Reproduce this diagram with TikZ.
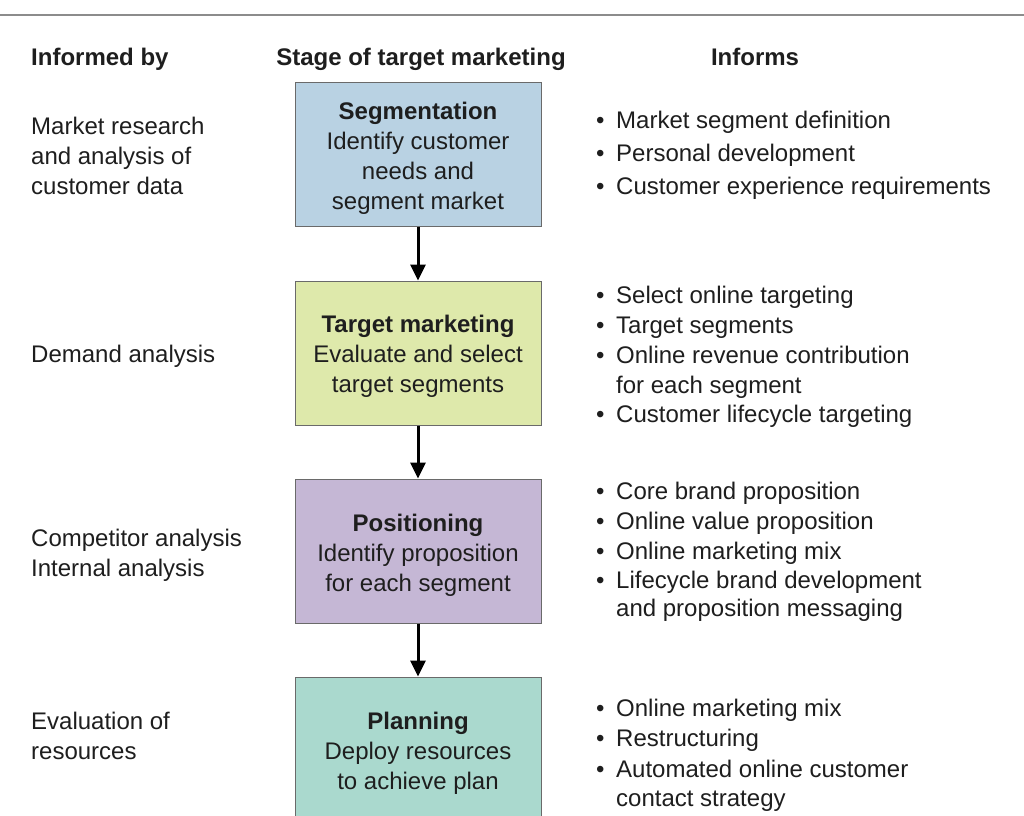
\documentclass[tikz,border=0pt]{standalone}
\usepackage{fontspec}
\setmainfont{Liberation Sans}
\usetikzlibrary{arrows.meta}
\definecolor{txt}{HTML}{1E1E1E}
\definecolor{cSeg}{HTML}{B9D2E3}
\definecolor{cTar}{HTML}{DEE9AB}
\definecolor{cPos}{HTML}{C5B7D5}
\definecolor{cPla}{HTML}{AAD9CE}
\definecolor{brd}{HTML}{6A6A6A}
\newcommand{\bl}{\makebox[20pt][l]{\textbullet}}
\begin{document}
\begin{tikzpicture}[x=1pt,y=-1pt,
  every node/.style={text=txt,font=\fontsize{24}{30}\selectfont,inner sep=0pt},
  lbl/.style={anchor=base west},
  hdr/.style={anchor=base,font=\fontsize{24}{30}\selectfont\bfseries},
  stagebox/.style={draw=brd,line width=1pt,minimum width=246pt,minimum height=144pt},
  stagetext/.style={align=center},
  flow/.style={line width=3pt,-{Triangle[width=15pt,length=16pt]}}]
\useasboundingbox (0,0) rectangle (1024,815);
\clip (0,0) rectangle (1024,815);
\fill[white] (0,0) rectangle (1024,815);
\coordinate (tl) at (0,15);
\coordinate (tr) at (1024,15);
\draw[line width=1.5pt,black!45] (tl) -- (tr);
% headers
\node[hdr,anchor=base west] (h1) at (31,65) {Informed by};
\node[hdr] (h2) at (421,65) {Stage of target marketing};
\node[hdr] (h3) at (755,65) {Informs};
% boxes
\node[stagebox,fill=cSeg] (b1) at (418,154) {};
\node[stagebox,fill=cTar] (b2) at (418,353) {};
\node[stagebox,fill=cPos] (b3) at (418,551) {};
\node[stagebox,fill=cPla] (b4) at (418,749) {};
\node[stagetext] (t1) at ([yshift=-4pt]b1.center) {\textbf{Segmentation}\\Identify customer\\needs and\\segment market};
\node[stagetext] (t2) at ([yshift=-3pt]b2.center) {\textbf{Target marketing}\\Evaluate and select\\target segments};
\node[stagetext] (t3) at ([yshift=-4pt]b3.center) {\textbf{Positioning}\\Identify proposition\\for each segment};
\node[stagetext] (t4) at ([yshift=-4pt]b4.center) {\textbf{Planning}\\Deploy resources\\to achieve plan};
\draw[flow] (b1.south) -- (b2.north);
\draw[flow] (b2.south) -- (b3.north);
\draw[flow] (b3.south) -- (b4.north);
% left column
\node[lbl] (l1) at (31,134) {Market research};
\node[lbl] (l2) at (31,164) {and analysis of};
\node[lbl] (l3) at (31,194) {customer data};
\node[lbl] (l4) at (31,362) {Demand analysis};
\node[lbl] (l5) at (31,546) {Competitor analysis};
\node[lbl] (l6) at (31,576) {Internal analysis};
\node[lbl] (l7) at (31,729) {Evaluation of};
\node[lbl] (l8) at (31,759) {resources};
% right column
\node[lbl] (r1) at (596,128) {\bl Market segment definition};
\node[lbl] (r2) at (596,161) {\bl Personal development};
\node[lbl] (r3) at (596,194) {\bl Customer experience requirements};
\node[lbl] (r4) at (596,303) {\bl Select online targeting};
\node[lbl] (r5) at (596,333) {\bl Target segments};
\node[lbl] (r6) at (596,363) {\bl Online revenue contribution};
\node[lbl] (r7) at (616,393) {for each segment};
\node[lbl] (r8) at (596,422) {\bl Customer lifecycle targeting};
\node[lbl] (r9) at (596,499) {\bl Core brand proposition};
\node[lbl] (r10) at (596,529) {\bl Online value proposition};
\node[lbl] (r11) at (596,559) {\bl Online marketing mix};
\node[lbl] (r12) at (596,588) {\bl Lifecycle brand development};
\node[lbl] (r13) at (616,616) {and proposition messaging};
\node[lbl] (r14) at (596,716) {\bl Online marketing mix};
\node[lbl] (r15) at (596,746) {\bl Restructuring};
\node[lbl] (r16) at (596,777) {\bl Automated online customer};
\node[lbl] (r17) at (616,806) {contact strategy};
\end{tikzpicture}
\end{document}
